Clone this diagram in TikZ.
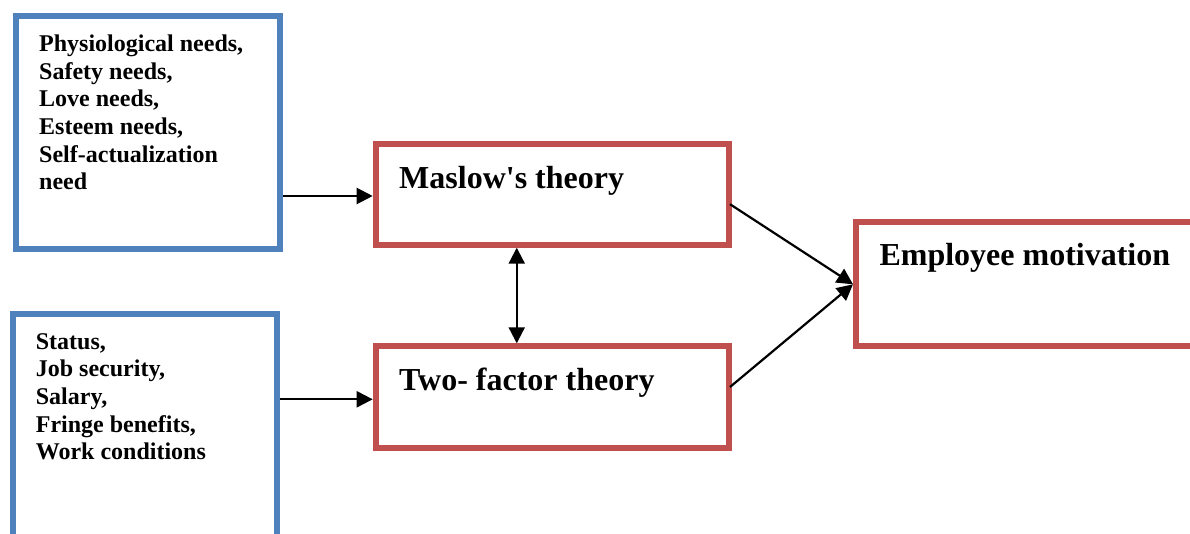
\documentclass[tikz,border=0pt]{standalone}
\usepackage{fontspec}
\setmainfont{Liberation Serif}
\usetikzlibrary{arrows.meta}
\definecolor{boxblue}{HTML}{4F81BD}
\definecolor{boxred}{HTML}{C0504D}
\begin{document}
\begin{tikzpicture}[x=1pt,y=-1pt,
  bluebox/.style={draw=boxblue,line width=6pt,rectangle,inner sep=0pt},
  redbox/.style={draw=boxred,line width=6pt,rectangle,inner sep=0pt},
  smalltxt/.style={anchor=base west,inner sep=0pt,font=\fontsize{24}{27.6}\selectfont\bfseries},
  bigtxt/.style={anchor=base west,inner sep=0pt,font=\fontsize{32}{38}\selectfont\bfseries},
  conn/.style={line width=2.2pt,-{Triangle[length=16pt,width=16pt]}},
  dconn/.style={line width=2.2pt,{Triangle[length=16pt,width=16pt]}-{Triangle[length=16pt,width=16pt]}}
]
\useasboundingbox (0,0) rectangle (1190,534);
\fill[white] (0,0) rectangle (1190,534);
\clip (0,0) rectangle (1190,534);

\node[bluebox,minimum width=264.5pt,minimum height=232.5pt] (b1) at (147.75,132.75) {};
\node[bluebox,minimum width=264.5pt,minimum height=246pt] (b2) at (144.75,437) {};
\node[redbox,minimum width=353.3pt,minimum height=101pt] (mas) at (552.35,194.2) {};
\node[redbox,minimum width=353.3pt,minimum height=101.4pt] (two) at (552.35,397) {};
\node[redbox,minimum width=359pt,minimum height=124pt] (emp) at (1035.5,284.3) {};

\node[smalltxt] (t1) at (39,51.7) {\begin{tabular}[t]{@{}l@{}}Physiological needs,\\Safety needs,\\Love needs,\\Esteem needs,\\Self-actualization\\need\end{tabular}};
\node[smalltxt] (t2) at (35.7,349.3) {\begin{tabular}[t]{@{}l@{}}Status,\\Job security,\\Salary,\\Fringe benefits,\\Work conditions\end{tabular}};
\node[bigtxt] (tm) at (399,188.3) {Maslow\textquotesingle s theory};
\node[bigtxt] (tt) at (399,390) {Two- factor theory};
\node[bigtxt] (te) at (879.3,266) {Employee motivation};

\draw[conn] (b1.east |- 0,196) -- (mas.west |- 0,196);
\draw[conn] (b2.east |- 0,399.3) -- (two.west |- 0,399.3);
\draw[dconn] ([xshift=-35.6pt]mas.south) -- ([xshift=-35.6pt]two.north);
\draw[conn] ([xshift=-2pt,yshift=-10pt]mas.east) -- (emp.west);
\draw[conn] ([xshift=-2pt,yshift=10pt]two.east) -- (emp.west);
\end{tikzpicture}
\end{document}
